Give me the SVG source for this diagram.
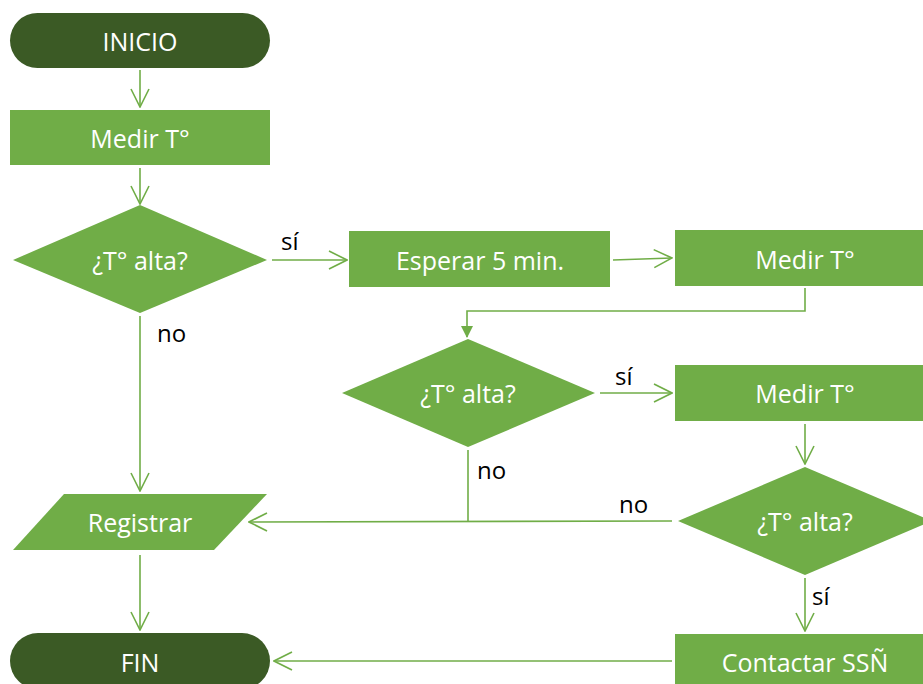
<svg xmlns="http://www.w3.org/2000/svg" width="923" height="684" viewBox="0 0 923 684">
<style>
.term{fill:#3b5a25}
.proc{fill:#70ad47}
.t{font-family:"Open Sans","Liberation Sans",sans-serif;font-size:25px;fill:#fff;text-anchor:middle;dominant-baseline:central}
.lbl{font-family:"Open Sans","Liberation Sans",sans-serif;font-size:24px;fill:#000}
.c{fill:none;stroke:#70ad47;stroke-width:1.6}
</style>
<defs>
<marker id="open" viewBox="0 0 20 20" refX="19" refY="10" markerWidth="20" markerHeight="20" markerUnits="userSpaceOnUse" orient="auto">
<path d="M1,1 L19,10 L1,19" fill="none" stroke="#70ad47" stroke-width="1.6"/>
</marker>
<marker id="solid" viewBox="0 0 12 12" refX="11" refY="6" markerWidth="12" markerHeight="12" markerUnits="userSpaceOnUse" orient="auto">
<path d="M0,0 L12,6 L0,12 Z" fill="#70ad47"/>
</marker>
</defs>
<rect width="923" height="684" fill="#fff"/>
<g id="connectors">
<line class="c" x1="140" y1="70" x2="140" y2="107" marker-end="url(#open)"/>
<line class="c" x1="140" y1="168" x2="140" y2="204" marker-end="url(#open)"/>
<line class="c" x1="272" y1="260" x2="347" y2="260" marker-end="url(#open)"/>
<line class="c" x1="613" y1="260" x2="672" y2="258" marker-end="url(#open)"/>
<polyline class="c" points="805,288 805,311 467,311 467,337" marker-end="url(#solid)"/>
<line class="c" x1="600" y1="393" x2="672" y2="393" marker-end="url(#open)"/>
<line class="c" x1="805" y1="424" x2="805" y2="464" marker-end="url(#open)"/>
<line class="c" x1="140" y1="316" x2="140" y2="491" marker-end="url(#open)"/>
<polyline class="c" points="468,450 468,521"/>
<line class="c" x1="672" y1="521" x2="249" y2="522" marker-end="url(#open)"/>
<line class="c" x1="140" y1="555" x2="140" y2="630" marker-end="url(#open)"/>
<line class="c" x1="805" y1="578" x2="805" y2="631" marker-end="url(#open)"/>
<line class="c" x1="672" y1="661" x2="274" y2="661" marker-end="url(#open)"/>
<text class="lbl" x="281" y="250">sí</text>
<text class="lbl" x="157" y="342">no</text>
<text class="lbl" x="615" y="385">sí</text>
<text class="lbl" x="477" y="479">no</text>
<text class="lbl" x="619" y="513">no</text>
<text class="lbl" x="812" y="605">sí</text>
</g>
<g id="inicio">
<rect class="term" x="10" y="13" width="260" height="55" rx="27.5"/>
<text class="t" x="140" y="41">INICIO</text>
</g>
<g id="medir1">
<rect class="proc" x="10" y="110" width="260" height="55"/>
<text class="t" x="140" y="138">Medir T°</text>
</g>
<g id="decision1">
<polygon class="proc" points="140,205 267,260 140,313 13,260"/>
<text class="t" x="140" y="260">¿T° alta?</text>
</g>
<g id="esperar">
<rect class="proc" x="349" y="231" width="261" height="56"/>
<text class="t" x="480" y="260">Esperar 5 min.</text>
</g>
<g id="medir2">
<rect class="proc" x="675" y="230" width="250" height="56"/>
<text class="t" x="805" y="259">Medir T°</text>
</g>
<g id="decision2">
<polygon class="proc" points="468,339 595,393 468,447 342,393"/>
<text class="t" x="468" y="393">¿T° alta?</text>
</g>
<g id="medir3">
<rect class="proc" x="675" y="365" width="250" height="56"/>
<text class="t" x="805" y="393">Medir T°</text>
</g>
<g id="decision3">
<polygon class="proc" points="805,467 932,521 805,575 678,521"/>
<text class="t" x="805" y="521">¿T° alta?</text>
</g>
<g id="registrar">
<polygon class="proc" points="64,494 267,494 214,550 13,550"/>
<text class="t" x="140" y="522">Registrar</text>
</g>
<g id="fin">
<rect class="term" x="10" y="633" width="260" height="56" rx="28"/>
<text class="t" x="140" y="662">FIN</text>
</g>
<g id="contactar">
<rect class="proc" x="675" y="634" width="250" height="56"/>
<text class="t" x="805" y="662">Contactar SSÑ</text>
</g>
</svg>
